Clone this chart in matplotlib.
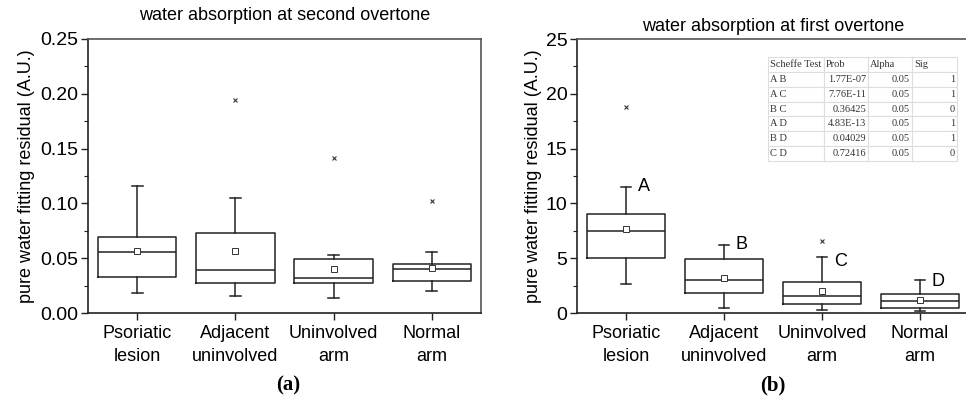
import matplotlib
matplotlib.use("Agg")
import matplotlib.pyplot as plt
from matplotlib.ticker import MultipleLocator

categories = ["Psoriatic\nlesion", "Adjacent\nuninvolved", "Uninvolved\narm", "Normal\narm"]

# panel (a): second overtone
a_whislo = [0.0185, 0.0152, 0.0140, 0.0198]
a_q1 = [0.0328, 0.0277, 0.0271, 0.0289]
a_med = [0.0557, 0.0390, 0.0322, 0.0404]
a_q3 = [0.0693, 0.0727, 0.0490, 0.0450]
a_whishi = [0.1160, 0.1046, 0.0529, 0.0554]
a_mean = [0.0566, 0.0566, 0.0398, 0.0408]
a_fliers = [[], [0.1943], [0.1414], [0.1019]]

# panel (b): first overtone
b_whislo = [2.64, 0.46, 0.30, 0.21]
b_q1 = [5.04, 1.82, 0.82, 0.48]
b_med = [7.50, 2.97, 1.51, 1.12]
b_q3 = [9.05, 4.92, 2.83, 1.73]
b_whishi = [11.51, 6.23, 5.07, 2.97]
b_mean = [7.62, 3.22, 2.03, 1.22]
b_fliers = [[18.8], [], [6.59], []]
group_letters = ["A", "B", "C", "D"]
letter_y = [11.5, 6.23, 4.7, 2.88]

table_header = ["Scheffe Test", "Prob", "Alpha", "Sig"]
table_rows = [
    ["A B", "1.77E-07", "0.05", "1"],
    ["A C", "7.76E-11", "0.05", "1"],
    ["B C", "0.36425", "0.05", "0"],
    ["A D", "4.83E-13", "0.05", "1"],
    ["B D", "0.04029", "0.05", "1"],
    ["C D", "0.72416", "0.05", "0"],
]

SANS = "Liberation Sans"
SERIF = "Liberation Serif"

fig = plt.figure(figsize=(9.66, 3.99), dpi=100)
W, H = 966, 399


def make_axes(x0, x1, y0, y1):
    return fig.add_axes([x0 / W, 1 - y1 / H, (x1 - x0) / W, (y1 - y0) / H])


def stats(wlo, q1, med, q3, whi, mean, fl):
    return [dict(whislo=wlo[i], q1=q1[i], med=med[i], q3=q3[i], whishi=whi[i],
                 mean=mean[i], fliers=fl[i]) for i in range(len(med))]


def draw(ax, st):
    ax.bxp(st, positions=[1, 2, 3, 4], widths=0.8, capwidths=0.11,
           showmeans=True, showfliers=True,
           boxprops=dict(color="#222222", linewidth=1.1),
           medianprops=dict(color="#222222", linewidth=1.1),
           whiskerprops=dict(color="#222222", linewidth=1.1),
           capprops=dict(color="#222222", linewidth=1.1),
           meanprops=dict(marker="s", markersize=3.8, markerfacecolor="white",
                          markeredgecolor="#333333", markeredgewidth=0.7),
           flierprops=dict(marker="x", markersize=3.5, markeredgecolor="#333333",
                           markeredgewidth=0.8))
    ax.set_xlim(0.5, 4.5)
    ax.set_xticks([1, 2, 3, 4])
    ax.set_xticklabels(categories, fontsize=13, family=SANS, linespacing=1.5)
    for s in ["top", "right"]:
        ax.spines[s].set_color("#555555")
        ax.spines[s].set_linewidth(1.2)
    for s in ["left", "bottom"]:
        ax.spines[s].set_color("#222222")
        ax.spines[s].set_linewidth(1.2)
    ax.tick_params(axis="both", which="major", direction="out", length=5, width=1.0,
                   color="#222222", top=False, right=False)
    ax.tick_params(axis="y", which="major", pad=2)
    ax.tick_params(axis="y", which="minor", direction="out", length=3, width=0.8,
                   color="#222222", right=False)
    ax.set_ylabel("pure water fitting residual (A.U.)", fontsize=13, family=SANS)


# panel (a)
ax1 = make_axes(88, 481, 39, 313)
draw(ax1, stats(a_whislo, a_q1, a_med, a_q3, a_whishi, a_mean, a_fliers))
ax1.set_ylim(0, 0.25)
ax1.yaxis.set_major_locator(MultipleLocator(0.05))
ax1.yaxis.set_minor_locator(MultipleLocator(0.025))
ax1.set_yticks(ax1.get_yticks())
ax1.set_yticklabels([f"{v:.2f}" for v in ax1.get_yticks()], family=SANS, fontsize=14)
ax1.set_ylim(0, 0.25)
ax1.set_title("water absorption at second overtone", fontsize=13, family=SANS, pad=14)
ax1.yaxis.set_label_coords(-0.135, 0.5)

# panel (b)
ax2 = make_axes(577, 969, 39, 313)
draw(ax2, stats(b_whislo, b_q1, b_med, b_q3, b_whishi, b_mean, b_fliers))
ax2.set_ylim(0, 25)
ax2.yaxis.set_major_locator(MultipleLocator(5))
ax2.yaxis.set_minor_locator(MultipleLocator(2.5))
ax2.set_yticks(ax2.get_yticks())
ax2.set_yticklabels([f"{v:g}" for v in ax2.get_yticks()], family=SANS, fontsize=14)
ax2.set_ylim(0, 25)
ax2.set_title("water absorption at first overtone", fontsize=13, family=SANS, pad=6)
ax2.yaxis.set_label_coords(-0.09, 0.5)
for i, (lt, ly) in enumerate(zip(group_letters, letter_y)):
    ax2.text(i + 1 + 0.12, ly, lt, fontsize=13, family=SANS, va="center", ha="left")

# Scheffe table
tab = ax2.table(cellText=table_rows, colLabels=table_header,
                bbox=[(768 - 577) / 392, (313 - 161) / 274, (957 - 768) / 392, (161 - 57) / 274],
                colWidths=[56, 44, 44, 45], cellLoc="right")
tab.auto_set_font_size(False)
for (r, c), cell in tab.get_celld().items():
    cell.set_edgecolor("#dddddd")
    cell.set_linewidth(0.8)
    cell.PAD = 0.04
    t = cell.get_text()
    t.set_fontsize(7.5)
    t.set_family(SERIF)
    t.set_color("#333333")
    if r == 0 or c == 0:
        t.set_ha("left")
        cell._loc = "left"

fig.text(288 / W, 1 - 385 / H, "(a)", fontsize=15, family=SERIF, weight="bold",
         ha="center", va="center")
fig.text(773 / W, 1 - 385 / H, "(b)", fontsize=15, family=SERIF, weight="bold",
         ha="center", va="center")

fig.savefig("out.png", dpi=100)
